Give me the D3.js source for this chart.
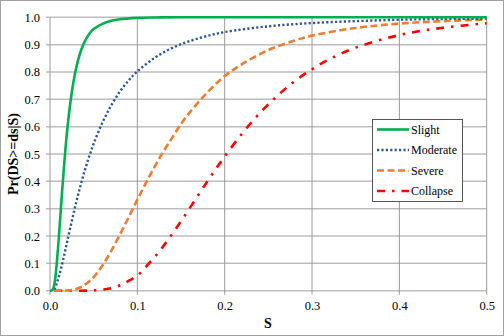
<!DOCTYPE html>
<html><head><meta charset="utf-8">
<script src="https://cdn.jsdelivr.net/npm/d3@7"></script>
<style>html,body{margin:0;padding:0;background:#fff}svg{display:block}
svg text{font-family:"Liberation Serif","Times New Roman",serif}</style>
</head><body>
<script>
// ---- data ----
const seriesNames = ["Slight", "Moderate", "Severe", "Collapse"];
const xTicks = [0.0, 0.1, 0.2, 0.3, 0.4, 0.5];
const yTicks = [0.0, 0.1, 0.2, 0.3, 0.4, 0.5, 0.6, 0.7, 0.8, 0.9, 1.0];

const slightS = [0, 0.002, 0.004, 0.006, 0.008, 0.010, 0.012, 0.014, 0.016, 0.018, 0.020, 0.023, 0.026, 0.030, 0.035, 0.040, 0.045, 0.050, 0.060, 0.070, 0.080, 0.100, 0.120, 0.150, 0.500];
const slightP = [0, 0.001, 0.01, 0.045, 0.11, 0.19, 0.28, 0.37, 0.453, 0.53, 0.596, 0.68, 0.747, 0.815, 0.874, 0.913, 0.94, 0.957, 0.976, 0.987, 0.993, 0.998, 0.9995, 1.0, 1.0];

const moderateS = [0.005, 0.0075, 0.010, 0.0125, 0.015, 0.0175, 0.020, 0.025, 0.030, 0.035, 0.040, 0.045, 0.050, 0.060, 0.070, 0.080, 0.090, 0.100, 0.120, 0.140, 0.160, 0.180, 0.200, 0.250, 0.300, 0.350, 0.400, 0.450, 0.500];
const moderateP = [0.004, 0.025, 0.05, 0.079, 0.113, 0.148, 0.184, 0.255, 0.323, 0.385, 0.442, 0.492, 0.538, 0.615, 0.677, 0.728, 0.769, 0.802, 0.852, 0.888, 0.913, 0.932, 0.946, 0.967, 0.979, 0.986, 0.991, 0.994, 0.995];

const severeS = [0.005, 0.020, 0.030, 0.040, 0.050, 0.060, 0.070, 0.080, 0.090, 0.100, 0.110, 0.120, 0.130, 0.140, 0.150, 0.160, 0.180, 0.200, 0.220, 0.250, 0.280, 0.300, 0.350, 0.400, 0.450, 0.500];
const severeP = [0, 0.001, 0.006, 0.022, 0.05, 0.092, 0.145, 0.205, 0.268, 0.333, 0.395, 0.455, 0.51, 0.56, 0.61, 0.652, 0.725, 0.785, 0.829, 0.88, 0.915, 0.933, 0.961, 0.977, 0.986, 0.992];

const collapseS = [0.005, 0.040, 0.050, 0.060, 0.070, 0.080, 0.090, 0.100, 0.110, 0.120, 0.130, 0.140, 0.150, 0.160, 0.170, 0.180, 0.190, 0.200, 0.220, 0.240, 0.260, 0.280, 0.300, 0.320, 0.350, 0.400, 0.450, 0.500];
const collapseP = [0, 0.0002, 0.001, 0.004, 0.009, 0.02, 0.036, 0.055, 0.088, 0.124, 0.164, 0.208, 0.254, 0.302, 0.351, 0.399, 0.446, 0.491, 0.575, 0.649, 0.712, 0.766, 0.81, 0.847, 0.889, 0.935, 0.962, 0.978];

// ---- chart ----
const W = 504, H = 336;
const svg = d3.select("body").append("svg").attr("width", W).attr("height", H);
svg.append("rect").attr("x", 0.5).attr("y", 0.5).attr("width", W - 1).attr("height", H - 1)
  .attr("fill", "#fff").attr("stroke", "#a0a0a0").attr("stroke-width", 1);

const x = d3.scaleLinear().domain([0, 0.5]).range([50, 486.7]);
const y = d3.scaleLinear().domain([0, 1]).range([290.7, 17.3]);
const font = '"Liberation Serif","Times New Roman",serif';

// horizontal gridlines
svg.append("g").selectAll("line").data(yTicks).join("line")
  .attr("x1", x(0) - 4).attr("x2", x(0.5))
  .attr("y1", d => y(d)).attr("y2", d => y(d))
  .attr("stroke", "#bdbdbd").attr("stroke-width", 1.5);
// vertical gridlines
svg.append("g").selectAll("line").data(xTicks).join("line")
  .attr("x1", d => x(d)).attr("x2", d => x(d))
  .attr("y1", y(1)).attr("y2", y(0) + 4)
  .attr("stroke", "#9a9a9a").attr("stroke-width", 1);

// axes using d3 axis generators (labels only)
const yAxis = d3.axisLeft(y).tickValues(yTicks).tickFormat(d3.format(".1f")).tickSize(0).tickPadding(10);
const gy = svg.append("g").attr("transform", `translate(${x(0)},0)`).call(yAxis)
  .attr("font-family", null).attr("font-size", null);
gy.select(".domain").remove();
gy.selectAll("text").style("font-family", font).style("font-size", "12.5px").attr("fill", "#000");

const xAxis = d3.axisBottom(x).tickValues(xTicks).tickFormat(d3.format(".1f")).tickSize(0).tickPadding(10);
const gx = svg.append("g").attr("transform", `translate(0,${y(0)})`).call(xAxis)
  .attr("font-family", null).attr("font-size", null);
gx.select(".domain").remove();
gx.selectAll("text").style("font-family", font).style("font-size", "12.5px").attr("fill", "#000");

// axis titles
svg.append("text").attr("x", 268).attr("y", 328).attr("text-anchor", "middle")
  .style("font-family", font).style("font-weight", "bold").style("font-size", "14px").text("S");
svg.append("text").attr("transform", `translate(18,${(y(0) + y(1)) / 2}) rotate(-90)`)
  .attr("text-anchor", "middle").style("font-family", font).style("font-weight", "bold")
  .style("font-size", "14px").text("Pr(DS>=ds|S)");

// series
const styles = [
  { color: "#00B050", width: 2.6, dash: null },
  { color: "#2F5597", width: 2.4, dash: "2.2,2.2" },
  { color: "#ED7D31", width: 2.6, dash: "7,3.5" },
  { color: "#FF0000", width: 2.6, dash: "8,7,2.5,7" }
];
const seriesData = [
  d3.zip(slightS, slightP), d3.zip(moderateS, moderateP),
  d3.zip(severeS, severeP), d3.zip(collapseS, collapseP)
];
const line = d3.line().x(d => x(d[0])).y(d => y(d[1])).curve(d3.curveCatmullRom.alpha(0.5));
[3, 2, 1, 0].forEach(i => {
  svg.append("path").datum(seriesData[i]).attr("d", line)
    .attr("fill", "none").attr("stroke", styles[i].color)
    .attr("stroke-width", styles[i].width)
    .attr("stroke-dasharray", styles[i].dash);
});

// legend
const lg = svg.append("g");
lg.append("rect").attr("x", 372.5).attr("y", 119.5).attr("width", 90).attr("height", 82)
  .attr("fill", "#fff").attr("stroke", "#555").attr("stroke-width", 1);
const rowY = [129.5, 150, 170.5, 191];
seriesNames.forEach((name, i) => {
  lg.append("line").attr("x1", 377).attr("x2", 409).attr("y1", rowY[i]).attr("y2", rowY[i])
    .attr("stroke", styles[i].color).attr("stroke-width", styles[i].width)
    .attr("stroke-dasharray", styles[i].dash);
  lg.append("text").attr("x", 411).attr("y", rowY[i] + 4.3)
    .style("font-family", font).style("font-size", "12px").attr("fill", "#000").text(name);
});
</script>
</body></html>
